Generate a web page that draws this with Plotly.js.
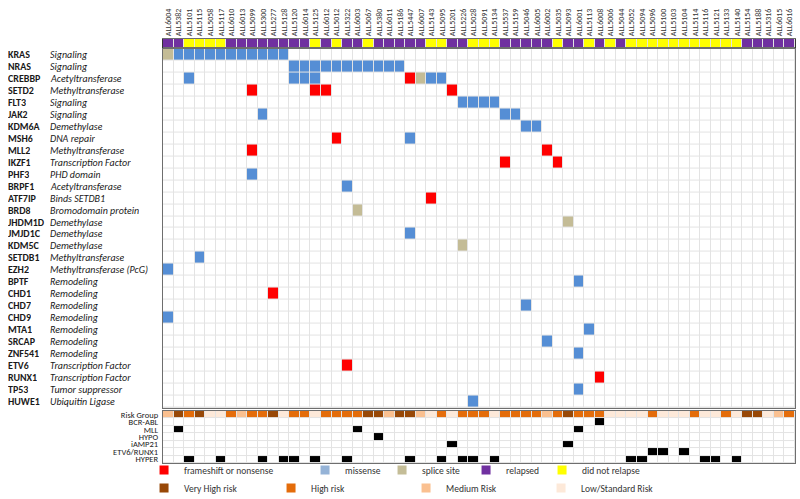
<!DOCTYPE html>
<html><head><meta charset="utf-8">
<script src="https://cdn.plot.ly/plotly-3.0.1.min.js"></script>
<style>html,body{margin:0;padding:0;background:#fff}#chart{width:800px;height:499px}</style>
</head><body><div id="chart"></div>
<script>
const samples = ["ALL6004","ALL5382","ALL5101","ALL5115","ALL5058","ALL5117","ALL6010","ALL6013","ALL5099","ALL5300",
  "ALL5277","ALL5128","ALL5120","ALL6014","ALL5125","ALL6012","ALL5012","ALL5322","ALL6003","ALL5067",
  "ALL5380","ALL6011","ALL5186","ALL5447","ALL6007","ALL5143","ALL5095","ALL5201","ALL5226","ALL5028",
  "ALL5091","ALL5134","ALL5537","ALL5159","ALL5046","ALL6005","ALL6002","ALL5035","ALL5093","ALL6001",
  "ALL5113","ALL6008","ALL5006","ALL5044","ALL5052","ALL5094","ALL5096","ALL5100","ALL5103","ALL5104",
  "ALL5114","ALL5116","ALL5121","ALL5133","ALL5140","ALL5154","ALL5188","ALL5316","ALL6015","ALL6016"];

const genes = ["KRAS","NRAS","CREBBP","SETD2","FLT3","JAK2","KDM6A","MSH6","MLL2","IKZF1","PHF3","BRPF1",
  "ATF7IP","BRD8","JHDM1D","JMJD1C","KDM5C","SETDB1","EZH2","BPTF","CHD1","CHD7","CHD9","MTA1","SRCAP",
  "ZNF541","ETV6","RUNX1","TP53","HUWE1"];
const geneFunctions = ["Signaling","Signaling","Acetyltransferase","Methyltransferase","Signaling","Signaling",
  "Demethylase","DNA repair","Methyltransferase","Transcription Factor","PHD domain","Acetyltransferase",
  "Binds SETDB1","Bromodomain protein","Demethylase","Demethylase","Demethylase","Methyltransferase",
  "Methyltransferase (PcG)","Remodeling","Remodeling","Remodeling","Remodeling","Remodeling","Remodeling",
  "Remodeling","Transcription Factor","Transcription Factor","Tumor suppressor","Ubiquitin Ligase"];

// R = relapsed, N = did not relapse
const relapseStatus = ["R","R","N","N","N","N","R","R","R","R","R","R","R","R","N","R","N","R","R","N",
  "R","R","R","R","R","N","N","R","R","N","N","N","R","R","R","R","R","N","R","R",
  "N","R","N","R","N","N","N","N","N","N","N","N","N","N","N","R","R","R","R","R"];
// V = very high, H = high, M = medium, L = low/standard
const riskGroup = ["M","V","H","V","L","L","H","M","H","H","V","L","H","H","L","H","H","H","H","V",
  "V","M","V","V","M","L","H","L","H","H","H","L","H","H","H","H","M","H","V","H",
  "H","H","L","L","L","L","H","L","L","L","H","L","L","H","L","V","V","L","M","H"];

const cytoRows = ["Risk Group","BCR-ABL","MLL","HYPO","iAMP21","ETV6/RUNX1","HYPER"];
const bcrAbl = ["ALL6008"];
const mll = ["ALL5382","ALL6003","ALL6001"];
const hypo = ["ALL5380"];
const iamp21 = ["ALL5201","ALL5093"];
const etv6Runx1 = ["ALL5096","ALL5100","ALL5104"];
const hyper = ["ALL5101","ALL5117","ALL5300","ALL5128","ALL5120","ALL5125","ALL5322","ALL5447","ALL5095",
  "ALL5226","ALL5028","ALL5134","ALL5052","ALL5094","ALL5116","ALL5121","ALL5140"];

const frameshift = [["SETD2","ALL5099"],["SETD2","ALL5125"],["SETD2","ALL6012"],["SETD2","ALL5201"],
  ["CREBBP","ALL5447"],["MSH6","ALL5012"],["MLL2","ALL5099"],["MLL2","ALL6002"],["IKZF1","ALL5537"],
  ["IKZF1","ALL5035"],["ATF7IP","ALL5143"],["CHD1","ALL5277"],["ETV6","ALL5322"],["RUNX1","ALL6008"]];
const missense = [
  ["KRAS","ALL5382"],["KRAS","ALL5101"],["KRAS","ALL5115"],["KRAS","ALL5058"],["KRAS","ALL5117"],["KRAS","ALL6010"],
  ["KRAS","ALL6013"],["KRAS","ALL5099"],["KRAS","ALL5300"],["KRAS","ALL5277"],["KRAS","ALL5128"],
  ["NRAS","ALL5120"],["NRAS","ALL6014"],["NRAS","ALL5125"],["NRAS","ALL6012"],["NRAS","ALL5012"],["NRAS","ALL5322"],
  ["NRAS","ALL6003"],["NRAS","ALL5067"],["NRAS","ALL5380"],["NRAS","ALL6011"],["NRAS","ALL5186"],
  ["CREBBP","ALL5101"],["CREBBP","ALL5120"],["CREBBP","ALL6014"],["CREBBP","ALL5125"],["CREBBP","ALL5143"],["CREBBP","ALL5095"],
  ["FLT3","ALL5226"],["FLT3","ALL5028"],["FLT3","ALL5091"],["FLT3","ALL5134"],
  ["JAK2","ALL5300"],["JAK2","ALL5537"],["JAK2","ALL5159"],["KDM6A","ALL5046"],["KDM6A","ALL6005"],
  ["MSH6","ALL5447"],["PHF3","ALL5099"],["BRPF1","ALL5322"],["JMJD1C","ALL5447"],["SETDB1","ALL5115"],
  ["EZH2","ALL6004"],["BPTF","ALL6001"],["CHD7","ALL5046"],["CHD9","ALL6004"],["MTA1","ALL5113"],
  ["SRCAP","ALL6002"],["ZNF541","ALL6001"],["TP53","ALL6001"],["HUWE1","ALL5028"]];
const spliceSite = [["KRAS","ALL6004"],["CREBBP","ALL6007"],["BRD8","ALL6003"],["JHDM1D","ALL5093"],["KDM5C","ALL5226"]];

// colour codes
const palette = ['#ffffff','#ff0000','#558ed5','#c4bc96','#7030a0','#ffff00','#984807','#e46c0a','#fac090','#fde9d9','#000000'];
const colorscale = [];
palette.forEach((c,k)=>{colorscale.push([k/palette.length,c]);colorscale.push([(k+1)/palette.length,c]);});

const geneZ = genes.map(()=>samples.map(()=>0));
function mark(list, code){ list.forEach(([g,s])=>{ geneZ[genes.indexOf(g)][samples.indexOf(s)] = code; }); }
mark(frameshift,1); mark(missense,2); mark(spliceSite,3);

const stripZ = [relapseStatus.map(r=> r==="R"?4:5)];
const riskCode = {V:6,H:7,M:8,L:9};
const cytoZ = [riskGroup.map(r=>riskCode[r])];
[bcrAbl,mll,hypo,iamp21,etv6Runx1,hyper].forEach(list=>{
  cytoZ.push(samples.map(s=> list.includes(s)?10:0));
});

const hm = {type:'heatmap', x:samples, colorscale:colorscale, zmin:-0.5, zmax:10.5, showscale:false,
  xgap:1, ygap:1, hoverinfo:'skip', showlegend:false};
const traces = [
  Object.assign({}, hm, {z:geneZ, y:genes, xaxis:'x', yaxis:'y'}),
  Object.assign({}, hm, {z:cytoZ, y:cytoRows, xaxis:'x2', yaxis:'y2'}),
  Object.assign({}, hm, {z:stripZ, y:['status'], xaxis:'x3', yaxis:'y3'})
];

const legendRow1 = [["frameshift or nonsense",'#ff0000',116],["missense",'#95b3d7',32],["splice site",'#c4bd97',39],
  ["relapsed",'#7030a0',31],["did not relapse",'#ffff00',80]];
const legendRow2 = [["Very High risk",'#984807',82],["High risk",'#e46c0a',90],["Medium Risk",'#fac090',90],
  ["Low/Standard Risk",'#fde9d9',100]];
legendRow1.forEach(([n,c,w])=>traces.push({type:'scatter',mode:'markers',x:[null],y:[null],name:n,legend:'legend',
  legendwidth:w, marker:{symbol:'square',size:9,color:c},xaxis:'x',yaxis:'y',hoverinfo:'skip'}));
legendRow2.forEach(([n,c,w])=>traces.push({type:'scatter',mode:'markers',x:[null],y:[null],name:n,legend:'legend2',
  legendwidth:w, marker:{symbol:'square',size:9,color:c},xaxis:'x',yaxis:'y',hoverinfo:'skip'}));

const FONT = "Carlito, Lato, 'Liberation Sans', sans-serif";
const lineC = '#6e6e6e';
const xBase = {type:'category', range:[-0.5,59.5], showgrid:false, zeroline:false, showline:true, mirror:true,
  linecolor:lineC, linewidth:1.2, ticks:'', fixedrange:true};
const annotations = [];
genes.forEach((g,i)=>{
  annotations.push({xref:'paper',yref:'y',x:-0.247,y:g,text:'<b>'+g+'</b>',showarrow:false,xanchor:'left',
    height:11, borderpad:0, font:{family:FONT,size:10,color:'#1a1a1a'}});
  annotations.push({xref:'paper',yref:'y',x:-0.18,y:g,text:'<i>'+geneFunctions[i]+'</i>',showarrow:false,xanchor:'left',
    height:11, borderpad:0, font:{family:FONT,size:10,color:'#1a1a1a'}});
});

const layout = {
  width:800, height:499, margin:{l:163,r:5,t:39,b:36,autoexpand:false}, paper_bgcolor:'#ffffff', plot_bgcolor:'#e3e3e3',
  font:{family:FONT,color:'#222'},
  xaxis:Object.assign({}, xBase, {anchor:'y', showticklabels:false}),
  xaxis2:Object.assign({}, xBase, {anchor:'y2', showticklabels:false}),
  xaxis3:Object.assign({}, xBase, {anchor:'y3', side:'top', showticklabels:true, tickangle:-90,
    tickfont:{family:FONT,size:8,color:'#333'}}),
  yaxis:{domain:[0.1297,0.9788], type:'category', autorange:'reversed', showticklabels:false, showgrid:false,
    zeroline:false, showline:true, mirror:true, linecolor:lineC, linewidth:1.2, ticks:''},
  yaxis2:{domain:[0,0.1226], type:'category', autorange:'reversed', showgrid:false, zeroline:false, showline:true,
    mirror:true, linecolor:lineC, linewidth:1.2, ticks:'', tickmode:'array', tickvals:cytoRows, ticktext:cytoRows,
    tickfont:{family:FONT,size:8.5,color:'#222'}, ticklabelstandoff:2},
  yaxis3:{domain:[0.9788,1], type:'category', showticklabels:false, showgrid:false, zeroline:false, showline:true,
    mirror:true, linecolor:'#333', linewidth:1.2, ticks:''},
  legend:{orientation:'h', x:-0.03, xanchor:'left', y:-0.0165, yanchor:'middle', bgcolor:'rgba(0,0,0,0)',
    font:{family:FONT,size:9.5,color:'#333'}, traceorder:'normal'},
  legend2:{orientation:'h', x:-0.03, xanchor:'left', y:-0.059, yanchor:'middle', bgcolor:'rgba(0,0,0,0)',
    font:{family:FONT,size:9.5,color:'#333'}, traceorder:'normal'},
  annotations:annotations
};
Plotly.newPlot('chart', traces, layout, {staticPlot:true, displayModeBar:false});
</script></body></html>
